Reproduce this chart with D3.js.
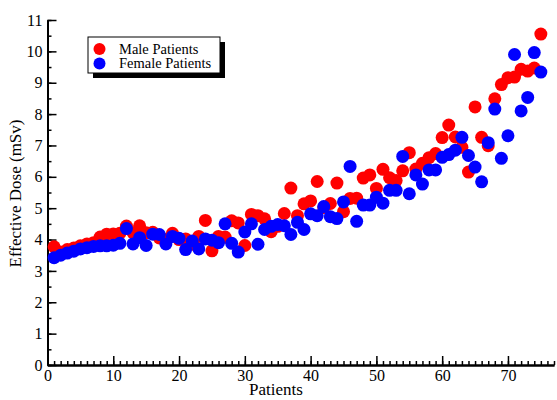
<!DOCTYPE html>
<html>
<head>
<meta charset="utf-8">
<script src="https://cdn.jsdelivr.net/npm/d3@7"></script>
<style>
  body { margin: 0; background: #fff; }
  svg { display: block; font-family: "Liberation Serif", "Times New Roman", serif; }
  .axis path, .axis line { stroke: #000; }
  .axis path { stroke-width: 2; }
  .axis line { stroke-width: 1.5; }
  .axis text { font-size: 16px; fill: #000; font-family: "Liberation Serif", serif; }
</style>
</head>
<body>
<div id="chart"></div>
<script>
// Effective dose per patient (mSv), patients numbered 1..75
var male = [3.77, 3.6, 3.68, 3.73, 3.8, 3.86, 3.9, 4.08, 4.17, 4.18,
    4.2, 4.43, 4.22, 4.44, 4.22, 4.23, 4.05, 4.0, 4.2, 4.0,
    4.02, 3.85, 4.1, 4.61, 3.64, 4.1, 4.08, 4.6, 4.53, 3.81,
    4.8, 4.76, 4.66, 4.25, 4.42, 4.83, 5.64, 4.76, 5.14, 5.23,
    5.85, 5.02, 5.15, 5.8, 4.89, 5.31, 5.32, 5.96, 6.06, 5.63,
    6.24, 5.97, 5.88, 6.19, 6.77, 6.25, 6.43, 6.61, 6.74, 7.25,
    7.65, 7.27, 6.94, 6.15, 8.23, 7.26, 6.99, 8.49, 8.94, 9.16,
    9.18, 9.43, 9.37, 9.47, 10.55];
var female = [3.42, 3.5, 3.57, 3.63, 3.7, 3.74, 3.78, 3.8, 3.8, 3.82,
    3.88, 4.35, 3.86, 4.06, 3.81, 4.17, 4.16, 3.86, 4.1, 4.04,
    3.68, 3.95, 3.7, 4.02, 3.98, 3.9, 4.5, 3.88, 3.6, 4.24,
    4.5, 3.85, 4.32, 4.42, 4.48, 4.44, 4.16, 4.55, 4.32, 4.82,
    4.76, 5.05, 4.73, 4.67, 5.2, 6.33, 4.58, 5.1, 5.1, 5.35,
    5.16, 5.57, 5.57, 6.65, 5.46, 6.06, 5.77, 6.22, 6.22, 6.62,
    6.71, 6.85, 7.26, 6.68, 6.31, 5.84, 7.09, 8.16, 6.59, 7.31,
    9.9, 8.1, 8.53, 9.96, 9.34];
var xTicks = [0, 10, 20, 30, 40, 50, 60, 70];
var yTicks = [0, 1, 2, 3, 4, 5, 6, 7, 8, 9, 10, 11];
var seriesNames = ["Male Patients", "Female Patients"];
var seriesColors = ["#ff0000", "#0000ff"];

var width = 557, height = 400;
var plotL = 47.5, plotR = 554, plotT = 20, plotB = 365;

var svg = d3.select("#chart").append("svg")
    .attr("width", width)
    .attr("height", height);

var x = d3.scaleLinear().domain([0, 77]).range([plotL, plotR]);
var y = d3.scaleLinear().domain([0, 11]).range([plotB, plotT]);

// minor ticks first, then major ticks with labels
svg.append("g")
    .attr("class", "axis")
    .attr("transform", "translate(0," + plotB + ")")
    .call(d3.axisBottom(x).tickValues(d3.range(0, 78, 1)).tickSize(-4).tickFormat("").tickSizeOuter(0));
svg.append("g")
    .attr("class", "axis")
    .attr("transform", "translate(0," + plotB + ")")
    .call(d3.axisBottom(x).tickValues(xTicks).tickSize(-9).tickPadding(5).tickSizeOuter(0));

svg.append("g")
    .attr("class", "axis")
    .attr("transform", "translate(" + plotL + ",0)")
    .call(d3.axisLeft(y).tickValues(d3.range(0, 11.01, 0.5)).tickSize(-4).tickFormat("").tickSizeOuter(0));
svg.append("g")
    .attr("class", "axis")
    .attr("transform", "translate(" + plotL + ",0)")
    .call(d3.axisLeft(y).tickValues(yTicks).tickSize(-9).tickPadding(5).tickSizeOuter(0));

// points: red first, blue on top
var series = [male, female];
series.forEach(function(vals, s) {
    svg.append("g").selectAll("circle")
        .data(vals)
        .enter().append("circle")
        .attr("cx", function(d, i) { return x(i + 1); })
        .attr("cy", function(d) { return y(d); })
        .attr("r", 6.5)
        .attr("fill", seriesColors[s]);
});

// axis titles
svg.append("text")
    .attr("x", 276)
    .attr("y", 395)
    .attr("text-anchor", "middle")
    .style("font-size", "17px")
    .text("Patients");
svg.append("text")
    .attr("transform", "translate(21," + ((plotT + plotB) / 2 + 1) + ") rotate(-90)")
    .attr("text-anchor", "middle")
    .style("font-size", "17px")
    .text("Effective Dose (mSv)");

// legend with drop shadow
var leg = svg.append("g").attr("transform", "translate(88,37)");
leg.append("rect")
    .attr("x", 5).attr("y", 5)
    .attr("width", 132).attr("height", 36)
    .attr("fill", "#000");
leg.append("rect")
    .attr("width", 132).attr("height", 36)
    .attr("fill", "#fff")
    .attr("stroke", "#000")
    .attr("stroke-width", 1);
var items = leg.selectAll(".legend")
    .data(seriesNames)
    .enter().append("g")
    .attr("class", "legend")
    .attr("transform", function(d, i) { return "translate(0," + (12 + i * 14.5) + ")"; });
items.append("circle")
    .attr("cx", 11.5)
    .attr("r", 6)
    .attr("fill", function(d, i) { return seriesColors[i]; });
items.append("text")
    .attr("x", 31)
    .attr("y", 4.5)
    .style("font-size", "14.5px")
    .text(function(d) { return d; });
</script>
</body>
</html>
